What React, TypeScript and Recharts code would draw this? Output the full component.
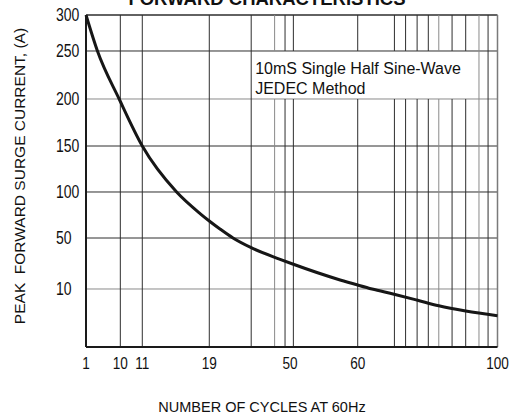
import { LineChart, Line, XAxis, YAxis, ReferenceLine, ReferenceArea, Label } from 'recharts'

// peak surge current vs number of cycles
const cycles = [1, 4, 9.7, 11, 15.1, 17.9, 19, 23.1, 28.1, 35.1, 46.2, 50.4, 57.4, 60, 64.1, 70.4, 76.9, 83.2, 90.9, 100]
const surgeAmps = [300, 250, 200, 150, 100, 76.6, 68.5, 59.8, 50, 42.4, 33.3, 29.6, 17.1, 13.1, 10, 9.1, 8.1, 7.1, 6.2, 5.4]

const xTicks = [1, 10, 11, 19, 50, 60, 100]
const yTicks = [10, 50, 100, 150, 200, 250, 300]

// vertical rules of the printed grid (in cycles)
const xGrid = [10, 11, 19, 35.1, 44.1, 48.1, 50.5, 60, 70.5, 73.7, 77, 80.2, 83.2, 87, 90.9, 94.7, 97.3]

// the printed axes are not linear: share of the plot where each labelled value sits
const X_STOPS = [0, 0.0834, 0.1368, 0.2996, 0.4957, 0.6603, 1]
const Y_STOPS = [0.1747, 0.3283, 0.4669, 0.6054, 0.747, 0.8916, 1]

const NOTE_FROM = 35.1
const NOTE_TO = 94.7

const LIGHT_X = [44.1, 83.2, 94.7]
const LIGHT_Y = [200, 10]

function warp(v: number, keys: number[], stops: number[]) {
  for (let i = 1; i < keys.length; i++) {
    if (v <= keys[i] || i === keys.length - 1) {
      const t = (v - keys[i - 1]) / (keys[i] - keys[i - 1])
      return stops[i - 1] + t * (stops[i] - stops[i - 1])
    }
  }
  return stops[0]
}

const toX = (c: number) => warp(c, xTicks, X_STOPS)
const toY = (a: number) => warp(a, [0, ...yTicks], [0, ...Y_STOPS])

const data = cycles.map((c, i) => ({ x: toX(c), y: toY(surgeAmps[i]) }))

const sans = '"Liberation Sans", Arial, sans-serif'

// no narrow face installed, so squeeze the regular one
function NarrowText({ x, y, anchor, size, children }: any) {
  return (
    <text
      transform={`translate(${x} ${y}) scale(0.8 1)`}
      textAnchor={anchor}
      fontFamily={sans}
      fontSize={size}
      fill="#111"
    >
      {children}
    </text>
  )
}

function XTick(props: any) {
  return (
    <NarrowText x={props.x} y={props.y + 22} anchor="middle" size={17}>
      {xTicks[props.index]}
    </NarrowText>
  )
}

function YTick(props: any) {
  return (
    <NarrowText x={props.x - 30} y={props.y + 6} anchor="start" size={17.5}>
      {yTicks[props.index]}
    </NarrowText>
  )
}

function NoteText(props: any) {
  const vb = props.viewBox
  return (
    <text fontFamily={sans} fontSize={16} fill="#111">
      <tspan x={vb.x + 4} y={vb.y + 23.5}>10mS Single Half Sine-Wave</tspan>
      <tspan x={vb.x + 4} y={vb.y + 42.7}>JEDEC Method</tspan>
    </text>
  )
}

export default function App() {
  const yLow = toY(200)
  const yHigh = toY(250)
  return (
    <div style={{ width: 514, height: 416 }}>
      <style>{'body{margin:0}'}</style>
      <LineChart width={514} height={416} data={data} margin={{ top: 15, right: 16.5, left: 0, bottom: 0 }}>
        <XAxis
          type="number"
          dataKey="x"
          domain={[0, 1]}
          ticks={xTicks.map(toX)}
          interval={0}
          height={69}
          tickSize={0}
          tickMargin={0}
          tick={<XTick />}
          axisLine={{ stroke: '#1a1a1a', strokeWidth: 2 }}
          tickLine={false}
        />
        <YAxis
          type="number"
          dataKey="y"
          domain={[0, 1]}
          ticks={yTicks.map(toY)}
          interval={0}
          width={86}
          tickSize={0}
          tickMargin={0}
          tick={<YTick />}
          axisLine={{ stroke: '#1a1a1a', strokeWidth: 2 }}
          tickLine={false}
        />

        {yTicks.map((v) => (
          <ReferenceLine
            key={'h' + v}
            y={toY(v)}
            stroke={LIGHT_Y.includes(v) ? '#8a8a8a' : '#2e2e2e'}
            strokeWidth={v === 300 ? 1.5 : 1}
          />
        ))}
        <ReferenceLine x={1} stroke="#7a7a7a" strokeWidth={1.5} />

        {xGrid.map((g) => {
          const stroke = LIGHT_X.includes(g) ? '#8a8a8a' : '#2e2e2e'
          if (g > NOTE_FROM && g < NOTE_TO) {
            return [
              <ReferenceLine
                key={'vb' + g}
                segment={[{ x: toX(g), y: 0 }, { x: toX(g), y: yLow }]}
                stroke={stroke}
              />,
              <ReferenceLine
                key={'vt' + g}
                segment={[{ x: toX(g), y: yHigh }, { x: toX(g), y: 1 }]}
                stroke={stroke}
              />,
            ]
          }
          return <ReferenceLine key={'v' + g} x={toX(g)} stroke={stroke} />
        })}

        <ReferenceArea
          x1={toX(NOTE_FROM)}
          x2={toX(NOTE_TO)}
          y1={yLow}
          y2={yHigh}
          fillOpacity={0}
          strokeOpacity={0}
        >
          <Label content={<NoteText />} />
        </ReferenceArea>

        <Line
          type="monotone"
          dataKey="y"
          stroke="#161616"
          strokeWidth={3}
          dot={false}
          isAnimationActive={false}
        />

        <text x={267} y={5} textAnchor="middle" fontFamily={sans} fontWeight="bold" fontSize={18.5} fill="#111">
          FORWARD CHARACTERISTICS
        </text>
        <text x={262} y={411.5} textAnchor="middle" fontFamily={sans} fontSize={14.5} fill="#111">
          NUMBER OF CYCLES AT 60Hz
        </text>
        <text
          x={25}
          y={176}
          transform="rotate(-90 25 176)"
          textAnchor="middle"
          fontFamily={sans}
          fontSize={15.5}
          fill="#111"
          xmlSpace="preserve"
        >
          PEAK  FORWARD SURGE CURRENT, (A)
        </text>
      </LineChart>
    </div>
  )
}
